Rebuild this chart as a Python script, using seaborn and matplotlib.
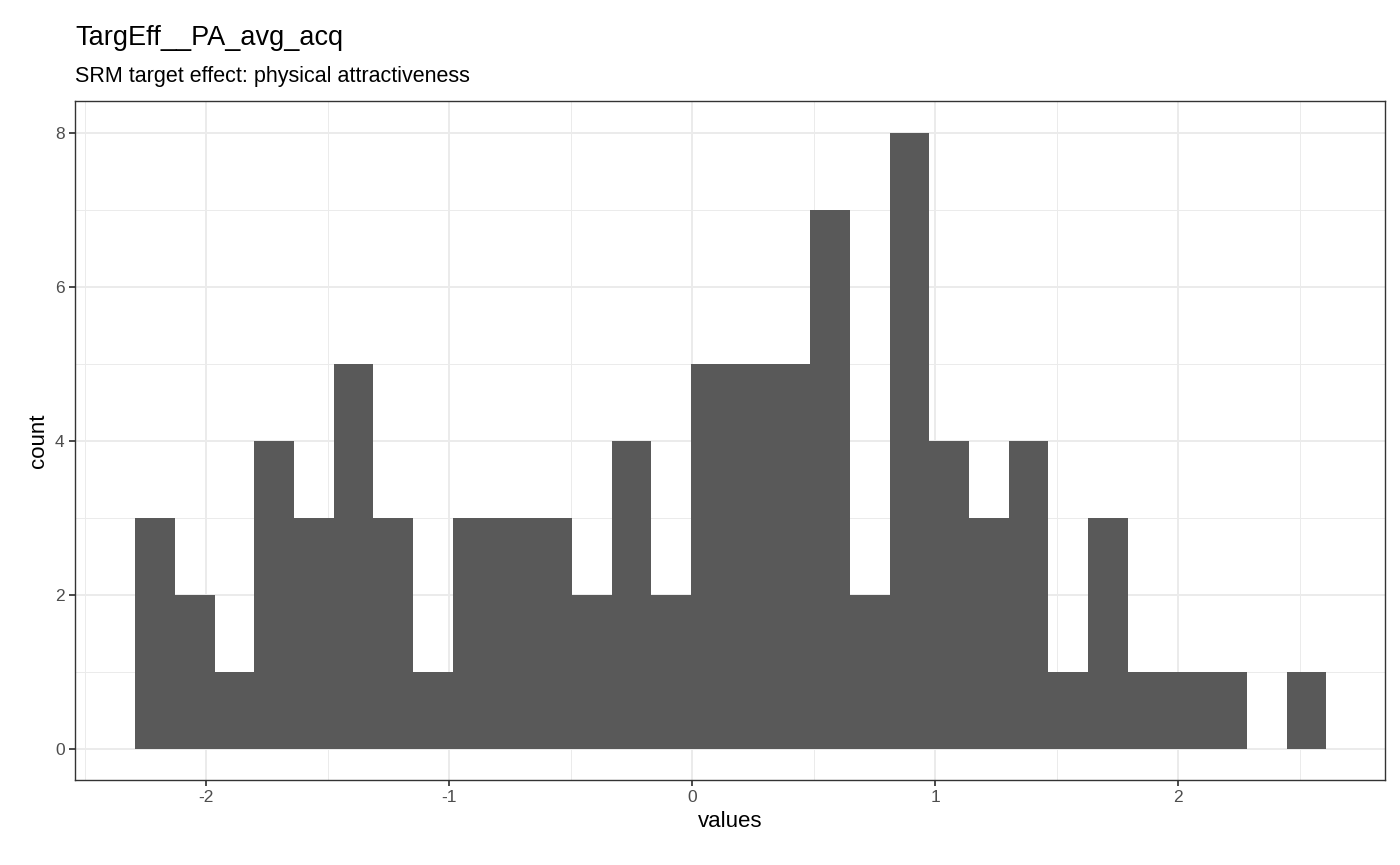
import matplotlib
matplotlib.use("Agg")
import matplotlib.pyplot as plt
import seaborn as sns
import numpy as np

x_min = -2.292
bin_width = 0.1634
counts = [3,2,1,4,3,5,3,1,3,3,3,2,4,2,5,5,5,7,2,8,4,3,4,1,3,1,1,1,0,1]
edges = [x_min + i*bin_width for i in range(len(counts)+1)]
centers = [(edges[i]+edges[i+1])/2 for i in range(len(counts))]

sns.set_theme(style="white")
plt.rcParams['font.family'] = ['Liberation Sans', 'DejaVu Sans']
fig = plt.figure(figsize=(14, 8.65), dpi=100)
ax = fig.add_axes([0.0536, 0.0983, 0.9354, 0.7847])
sns.histplot(x=centers, weights=counts, bins=edges, color="#595959", alpha=1,
             edgecolor="none", linewidth=0, ax=ax, zorder=3)
ax.set_xlim(-2.54, 2.85)
ax.set_ylim(-0.4, 8.41)
ax.set_xticks([-2,-1,0,1,2]); ax.set_xticklabels(["-2","-1","0","1","2"])
ax.set_yticks([0,2,4,6,8])
ax.set_xticks(np.arange(-2.5, 3, 1), minor=True)
ax.set_yticks([1,3,5,7], minor=True)
ax.grid(True, which="major", color="#EBEBEB", lw=1.4, zorder=0)
ax.grid(True, which="minor", color="#EBEBEB", lw=0.7, zorder=0)
ax.set_axisbelow(True)
for s in ax.spines.values():
    s.set_color("#333333"); s.set_linewidth(1)
ax.tick_params(axis="both", which="major", length=4, color="#333333", labelsize=12.5,
               labelcolor="#4D4D4D", bottom=True, left=True)
ax.tick_params(which="minor", length=0)
ax.set_xlabel("values", fontsize=16, color="black")
ax.set_ylabel("count", fontsize=16, color="black")
fig.text(0.0536, 0.948, "TargEff__PA_avg_acq", fontsize=19.5, color="black")
fig.text(0.0536, 0.905, "SRM target effect: physical attractiveness", fontsize=15.5, color="black")
fig.savefig("out.png", dpi=100)
